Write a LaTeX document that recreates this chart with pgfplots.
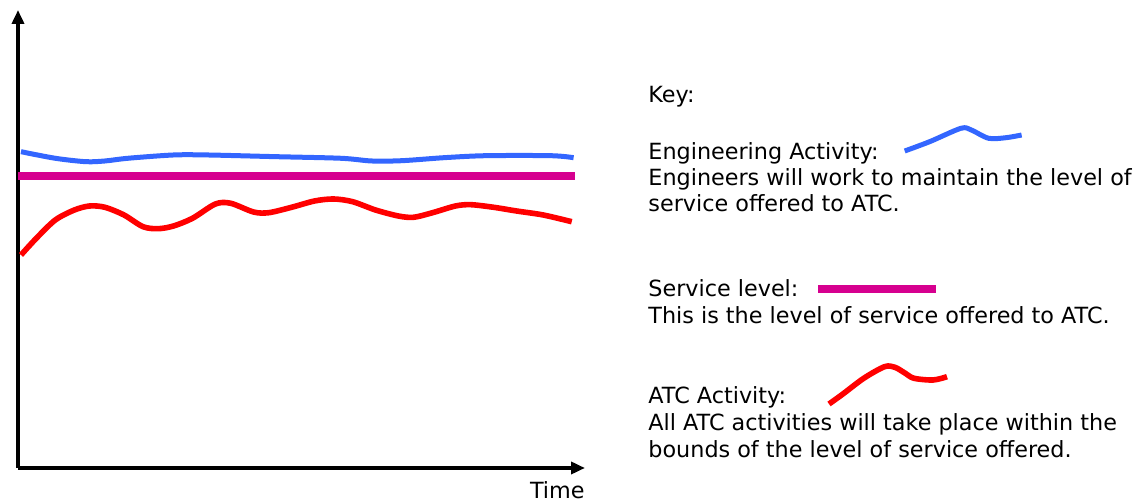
\documentclass[border=0pt]{standalone}
\usepackage{pgfplots}
\pgfplotsset{compat=1.18}
\usetikzlibrary{arrows.meta}
\usepackage{fontspec}
\setmainfont{DejaVu Sans}
\definecolor{engblue}{RGB}{51,102,255}
\definecolor{svcmag}{RGB}{214,0,143}
\definecolor{atcred}{RGB}{255,0,0}
\begin{document}
\begin{tikzpicture}[font=\fontsize{11.15pt}{13.25pt}\selectfont]
\useasboundingbox (0,0) rectangle (572pt,251pt);
% key axis (pixel coordinate system, y measured from bottom)
\begin{axis}[at={(0pt,0pt)}, anchor=south west, scale only axis,
  width=572pt, height=251pt, xmin=0, xmax=1144, ymin=0, ymax=502,
  hide axis, clip=false]
\addplot[engblue, line width=2.5pt, smooth, line join=round] coordinates {
 (904.7,351) (929.6,360.3) (960.9,373.7) (971.3,372) (988.6,363.7) (1006,364.3) (1021.6,367)};
\addplot[svcmag, line width=4pt] coordinates {(818,213) (936,213)};
\addplot[atcred, line width=2.8pt, smooth, line join=round] coordinates {
 (829,98) (842.9,108) (863.7,123.7) (884.5,135.3) (894.9,134.7) (905.3,128.7) (914,123.7) (933.1,122) (947,125.3)};
\tikzset{keytxt/.style={anchor=base west, inner sep=0pt, font=\fontsize{11.15pt}{13.25pt}\selectfont}}
\node[keytxt] at (axis cs:648,399) {Key:};
\node[keytxt] at (axis cs:648,342.5) {Engineering Activity:};
\node[keytxt] at (axis cs:648,316) {Engineers will work to maintain the level of};
\node[keytxt] at (axis cs:648,290) {service offered to ATC.};
\node[keytxt] at (axis cs:648,205.3) {Service level:};
\node[keytxt] at (axis cs:648,178.7) {This is the level of service offered to ATC.};
\node[keytxt] at (axis cs:648,98.7) {ATC Activity:};
\node[keytxt] at (axis cs:648,71) {All ATC activities will take place within the};
\node[keytxt] at (axis cs:648,44.3) {bounds of the level of service offered.};
\node[anchor=base east, inner sep=0pt, font=\fontsize{11.15pt}{13.25pt}\selectfont] at (axis cs:585,3) {Time};
\end{axis}
% main chart
\begin{axis}[at={(9pt,17pt)}, anchor=south west, scale only axis,
  width=283.5pt, height=229pt, xmin=18, xmax=585, ymin=34, ymax=492,
  axis lines=left,
  axis line style={line width=2pt, -{Triangle[length=7pt,width=6pt]}},
  xtick=\empty, ytick=\empty, clip=false]
\addplot[engblue, line width=2.5pt, smooth, tension=0.5, line join=round] coordinates {
 (21,350.3) (55.3,343.7) (85.8,340.3) (104.9,341) (127.8,343.7) (173.5,347) (207.8,347)
 (276.4,345.3) (341.2,343.7) (371.7,341) (402.1,341.3) (444.1,344.3) (486,346.3) (550.8,346.3) (573.6,344.3)};
\addplot[svcmag, line width=4.3pt] coordinates {(18,326) (575,326)};
\addplot[atcred, line width=2.8pt, smooth, tension=0.5, line join=round] coordinates {
 (21,247) (36.3,263.7) (55.3,282) (74.4,292) (89.6,296) (104.9,294.7) (124,287) (143,275.3)
 (158.2,273.3) (173.5,276) (192.5,283.7) (215.4,298) (230.7,298.7) (253.5,290) (268.8,289.3)
 (291.6,294.7) (314.5,301) (333.5,303) (352.6,300.3) (375.5,292) (398.3,286) (413.6,284.7)
 (432.6,289.3) (455.5,296) (470.8,297.3) (493.6,294.7) (516.5,291) (543.2,287) (571.7,280.3)};
\end{axis}
\end{tikzpicture}
\end{document}
